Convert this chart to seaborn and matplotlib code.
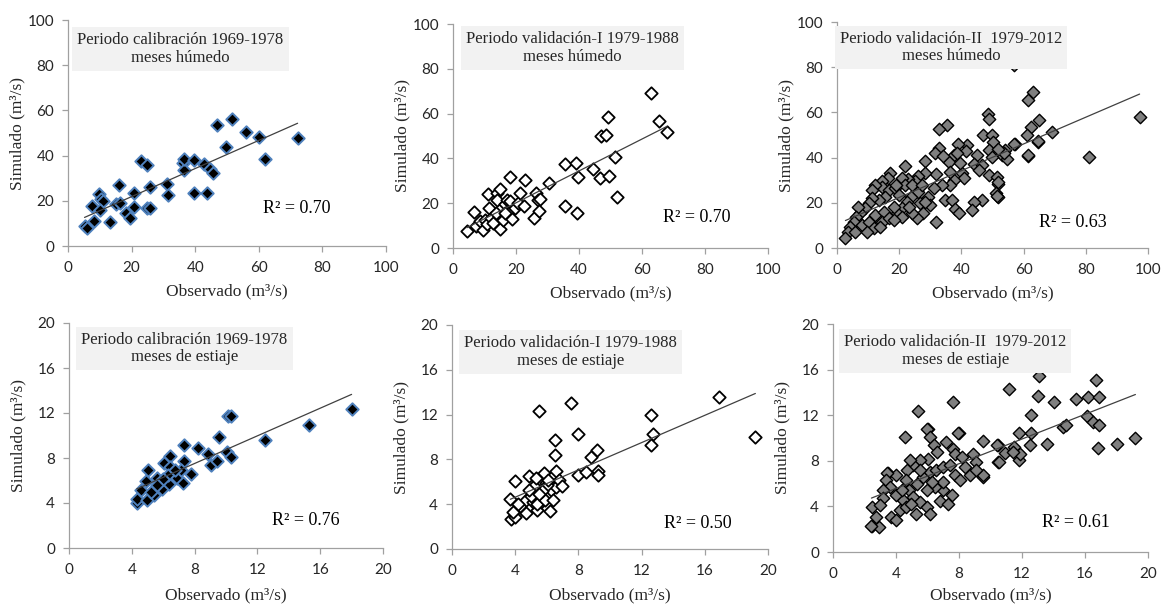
import matplotlib
matplotlib.use('Agg')
import matplotlib.pyplot as plt
import seaborn as sns

# ---- data (observado, simulado) ----
# calibracion 1969-1978, meses humedos
obs_cal_hum = [5.2, 6.0, 8.1, 7.7, 9.8, 10.5, 11.0, 10.0, 13.3, 15.0, 16.0, 16.5, 18.2, 19.6,
               20.7, 20.7, 22.8, 24.7, 24.7, 25.9, 25.9, 31.2, 31.5, 36.2, 36.4, 36.5, 39.6,
               39.6, 42.7, 43.8, 44.8, 45.6, 46.9, 49.8, 51.6, 55.9, 60.1, 61.9, 72.2]
sim_cal_hum = [8.8, 8.1, 11.0, 17.6, 23.0, 21.0, 20.0, 15.9, 10.6, 18.7, 27.2, 19.0, 14.7, 12.5,
               23.5, 17.4, 37.5, 35.7, 16.9, 26.2, 16.9, 27.6, 22.4, 36.8, 33.5, 38.5, 37.9,
               23.5, 36.5, 23.5, 34.1, 32.1, 53.7, 43.7, 56.3, 50.4, 48.2, 38.7, 47.9]

# validacion-I 1979-1988, meses humedos
obs_val1_hum = [4.4, 6.6, 7.2, 8.5, 9.5, 10.1, 10.9, 11.1, 11.4, 12.2, 12.7, 13.5, 14.0, 14.0,
                14.8, 15.0, 15.9, 16.4, 16.4, 17.1, 18.0, 18.2, 18.8, 19.6, 20.6, 21.4, 22.4,
                23.0, 25.6, 26.3, 27.0, 27.3, 27.7, 30.5, 35.4, 35.4, 39.2, 39.7, 39.4, 44.4,
                46.7, 47.1, 48.5, 49.2, 49.5, 51.3, 52.1, 63.0, 65.4, 67.9]
sim_val1_hum = [7.4, 16.0, 9.7, 11.9, 8.2, 12.6, 10.8, 24.2, 17.8, 13.4, 11.1, 15.6, 24.5, 21.5,
                26.3, 8.5, 12.6, 19.8, 15.6, 21.5, 20.8, 31.6, 12.9, 17.8, 20.1, 24.5, 18.6,
                30.5, 13.4, 24.5, 21.5, 16.3, 21.8, 29.0, 37.6, 18.6, 37.9, 31.6, 15.6, 35.2,
                31.2, 49.8, 50.5, 58.7, 32.2, 40.6, 22.7, 69.4, 56.9, 51.6]

# validacion-II 1979-2012, meses humedos
obs_val2_hum = [63.1, 61.3, 48.7, 48.9, 65.0, 62.4, 69.0, 61.0, 64.5, 61.3, 57.3, 35.3, 32.9,
                47.1, 49.8, 50.3, 54.0, 53.0, 54.6, 49.0, 49.8, 41.7, 41.4, 38.8, 37.5, 35.9,
                32.7, 31.6, 34.0, 28.2, 22.0, 45.0, 44.2, 46.6, 45.5, 48.9, 51.4, 51.9, 51.2,
                51.7, 46.6, 44.2, 43.3, 40.1, 40.7, 37.5, 36.2, 33.7, 31.1, 31.8, 28.4, 26.0,
                25.2, 22.8, 20.9, 34.8, 36.9, 38.0, 39.3, 31.8, 27.5, 25.7, 29.4, 30.0, 26.2,
                23.9, 22.5, 20.9, 19.3, 17.1, 16.4, 14.5, 14.5, 12.3, 11.1, 16.6, 18.5, 19.8,
                15.5, 13.4, 11.3, 10.2, 9.1, 7.5, 6.8, 6.1, 5.4, 4.3, 3.6, 2.7, 5.9, 8.1,
                10.2, 12.3, 15.0, 14.5, 16.6, 11.8, 9.7, 13.9, 18.2, 24.1, 23.0, 26.8, 28.4,
                20.9, 18.2, 22.0, 24.1, 27.3, 19.0, 36.4, 39.6, 38.5, 57.0, 57.0, 97.3,
                53.8, 51.7, 81.0, 64.7, 61.5, 51.7, 51.3]
sim_val2_hum = [69.1, 65.4, 59.1, 57.3, 56.6, 53.6, 51.4, 50.0, 47.0, 40.7, 45.8, 54.6, 52.6,
                49.9, 50.2, 47.0, 43.3, 41.1, 39.6, 43.3, 40.4, 45.5, 42.9, 45.8, 41.1, 38.2,
                44.1, 41.9, 40.8, 38.5, 36.3, 41.1, 37.0, 36.7, 34.5, 32.3, 31.6, 28.2, 24.2,
                22.7, 21.3, 20.5, 16.9, 33.0, 30.8, 30.1, 27.9, 27.9, 26.7, 32.6, 33.0, 32.0,
                29.6, 30.5, 31.1, 21.3, 21.3, 17.3, 15.4, 11.3, 15.4, 13.2, 22.7, 19.1, 24.9,
                22.7, 20.5, 17.9, 15.4, 33.0, 30.8, 29.6, 27.1, 27.9, 25.7, 25.7, 26.4, 23.5,
                22.7, 21.3, 22.0, 19.8, 17.6, 15.4, 18.3, 13.9, 11.7, 9.5, 7.3, 4.4, 7.3, 10.2,
                11.7, 14.6, 16.1, 11.7, 13.2, 8.8, 7.3, 9.5, 18.3, 15.4, 18.3, 19.8, 20.5,
                13.9, 12.4, 27.9, 27.9, 27.9, 27.9, 33.5, 37.4, 41.9, 46.0, 81.0, 57.8,
                41.9, 43.8, 40.1, 47.5, 41.2, 29.4, 22.8]

# calibracion 1969-1978, meses de estiaje
obs_cal_est = [4.31, 4.35, 4.58, 4.88, 5.0, 4.94, 5.43, 5.58, 5.75, 5.94, 6.06, 6.38, 6.42, 6.42,
               6.28, 6.85, 7.27, 7.34, 7.34, 7.12, 7.76, 8.23, 8.86, 9.07, 9.45, 9.54, 10.09,
               10.3, 10.14, 10.35, 12.47, 15.3, 18.0, 6.75, 6.0, 5.2, 5.6]
sim_cal_est = [4.04, 4.4, 5.2, 5.99, 6.94, 4.3, 4.72, 6.2, 5.5, 5.23, 7.53, 5.67, 8.18, 7.24,
               6.5, 6.2, 5.82, 7.77, 9.16, 6.94, 6.59, 8.86, 8.36, 7.39, 7.77, 9.9, 8.5,
               8.08, 11.73, 11.73, 9.6, 10.9, 12.4, 6.94, 6.1, 5.0, 5.6]

# validacion-I 1979-1988, meses de estiaje
obs_val1_est = [3.76, 3.97, 3.69, 3.97, 4.3, 4.7, 4.9, 5.1, 5.38, 5.55, 5.8, 5.93, 6.18, 6.29,
                5.13, 5.65, 5.34, 5.97, 6.4, 6.6, 6.6, 4.71, 6.5, 6.5, 4.18, 5.0, 5.2, 5.4,
                5.5, 5.9, 6.0, 6.4, 6.8, 6.98, 7.55, 7.97, 8.0, 8.5, 8.8, 9.2, 9.25, 9.25,
                12.6, 12.6, 12.7, 16.9, 19.2, 3.85, 5.3, 5.7, 6.1, 5.5, 4.9]
sim_val1_est = [2.67, 2.85, 4.45, 6.03, 3.8, 4.4, 6.5, 5.1, 3.5, 5.9, 6.8, 4.7, 3.4, 5.3,
                4.2, 4.2, 4.7, 5.9, 6.5, 5.5, 7.0, 3.2, 9.7, 8.4, 4.0, 4.7, 5.6, 4.0,
                12.3, 4.4, 5.7, 4.4, 6.2, 5.6, 13.0, 6.6, 10.3, 6.9, 8.2, 8.8, 7.0, 6.6,
                12.0, 9.3, 10.3, 13.6, 10.0, 3.3, 6.3, 5.2, 6.2, 4.9, 5.3]

# validacion-II 1979-2012, meses de estiaje
obs_val2_est = [2.5, 2.9, 2.5, 3.5, 4.6, 5.4, 6.0, 7.6, 8.0, 9.5, 9.55, 10.5, 10.5, 10.9, 11.2,
                11.5, 11.8, 11.9, 11.8, 12.6, 12.6, 12.5, 13.0, 13.1, 13.6, 14.0, 14.6, 14.8,
                15.4, 16.1, 16.2, 16.7, 16.5, 16.8, 16.9, 16.9, 18.0, 19.2,
                5.98, 7.95, 10.43, 10.56, 11.4, 6.15, 6.4, 7.2, 7.6, 6.6, 6.05, 5.5, 5.1, 4.7,
                4.9, 4.03, 3.44, 3.35, 3.6, 3.18, 3.2, 2.97, 2.76, 2.44, 3.7, 4.03, 4.24, 4.45,
                4.83, 5.35, 5.7, 6.15, 6.57, 7.0, 7.4, 7.74, 8.16, 8.38, 8.7, 8.9, 9.1, 9.5,
                9.1, 5.1, 5.52, 5.94, 6.15, 6.8, 7.3, 7.53, 7.0, 6.47, 5.94, 5.3, 4.66, 4.03,
                4.66, 5.52, 7.74, 8.06, 7.0, 6.26, 4.98, 4.35]
sim_val2_est = [2.25, 2.2, 3.95, 6.9, 10.1, 12.4, 10.8, 13.2, 10.4, 9.75, 6.6, 9.4, 7.9, 8.7,
                14.3, 9.25, 8.1, 8.6, 10.45, 12.0, 10.4, 9.4, 13.7, 15.4, 9.45, 13.2, 11.0,
                11.1, 13.4, 11.9, 13.6, 15.1, 11.4, 9.1, 13.6, 11.1, 9.45, 10.0,
                10.8, 10.4, 9.37, 7.9, 8.8, 10.1, 9.37, 9.66, 9.0, 8.8, 8.2, 8.05, 7.6, 7.2,
                8.05, 6.74, 6.94, 6.3, 5.7, 5.4, 4.7, 4.1, 3.1, 2.3, 3.1, 2.8, 3.66, 4.55,
                5.4, 6.0, 6.6, 7.0, 7.2, 7.5, 7.6, 8.6, 8.35, 7.5, 6.74, 8.6, 7.9, 6.74,
                7.2, 4.8, 4.4, 3.95, 3.37, 4.5, 4.25, 4.98, 5.4, 5.7, 5.4, 3.37, 3.95, 4.98,
                6.3, 7.2, 6.74, 6.3, 6.16, 6.16, 4.25, 5.4]

panel_obs = [obs_cal_hum, obs_val1_hum, obs_val2_hum, obs_cal_est, obs_val1_est, obs_val2_est]
panel_sim = [sim_cal_hum, sim_val1_hum, sim_val2_hum, sim_cal_est, sim_val1_est, sim_val2_est]

titles = ['Periodo calibración 1969-1978\nmeses húmedo',
          'Periodo validación-I 1979-1988\nmeses húmedo',
          'Periodo validación-II  1979-2012\nmeses húmedo',
          'Periodo calibración 1969-1978\nmeses de estiaje',
          'Periodo validación-I 1979-1988\nmeses de estiaje',
          'Periodo validación-II  1979-2012\nmeses de estiaje']
r2_labels = ['R² = 0.70', 'R² = 0.70', 'R² = 0.63', 'R² = 0.76', 'R² = 0.50', 'R² = 0.61']
x_label = 'Observado (m³/s)'
y_label = 'Simulado (m³/s)'

# ---- layout / style ----
sns.set_style('ticks')
plt.rcParams['font.family'] = ['Lato', 'DejaVu Sans']
SERIF = ['Liberation Serif', 'DejaVu Serif']
AXIS_GRAY = '#a0a0a0'

W, H = 1161, 604
# axes boxes in pixels: left, top, right, bottom
boxes = [(68, 20, 386, 246), (453, 24, 768, 248), (837, 22, 1148, 248),
         (69, 323, 383, 548), (452, 325, 768, 549), (833, 324, 1148, 552)]
marker_styles = [('black', '#4f81bd', 1.4), ('white', 'black', 1.3), ('#7f7f7f', 'black', 1.0)] * 2
title_pos = [(0.354, 0.872), (0.378, 0.893), (0.367, 0.887),
             (0.368, 0.887), (0.374, 0.880), (0.388, 0.880)]
r2_pos = [(0.72, 0.164), (0.775, 0.134), (0.757, 0.115),
          (0.753, 0.124), (0.777, 0.116), (0.771, 0.13)]
# distance (px) from the x axis down to the top of the x label
label_drop = [37, 37, 37, 39, 38, 35]

fig = plt.figure(figsize=(W / 100, H / 100), dpi=100)

for i in range(6):
    l, t, r, b = boxes[i]
    ax = fig.add_axes([l / W, 1 - b / H, (r - l) / W, (b - t) / H])
    fc, ec, lw = marker_styles[i]
    sns.scatterplot(x=panel_obs[i], y=panel_sim[i], marker='D', s=40, color=fc,
                    edgecolor=ec, linewidth=lw, ax=ax, zorder=2)
    sns.regplot(x=panel_obs[i], y=panel_sim[i], scatter=False, ci=None, ax=ax,
                color='#404040', line_kws={'lw': 0.9, 'zorder': 3})

    top = 100 if i < 3 else 20
    step = 20 if i < 3 else 4
    ax.set_xlim(0, top)
    ax.set_ylim(0, top)
    ax.set_xticks(range(0, top + 1, step))
    ax.set_yticks(range(0, top + 1, step))
    sns.despine(ax=ax)
    for sp in ['left', 'bottom']:
        ax.spines[sp].set_color(AXIS_GRAY)
        ax.spines[sp].set_linewidth(0.9)
    ax.tick_params(axis='both', direction='out', length=4, width=0.9, color=AXIS_GRAY,
                   labelcolor='#262626', labelsize=11)
    ax.tick_params(axis='x', pad=7)
    ax.tick_params(axis='y', pad=6)

    ax.set_xlabel(x_label, family=SERIF, fontsize=12.5, color='#262626')
    ax.set_ylabel(y_label, family=SERIF, fontsize=12.5, color='#262626')
    ax.xaxis.set_label_coords(0.5, -label_drop[i] / (b - t))
    ax.yaxis.set_label_coords(-43 / (r - l), 0.5)

    tx, ty = title_pos[i]
    ax.text(tx, ty, titles[i], transform=ax.transAxes, ha='center', va='center',
            family=SERIF, fontsize=12, linespacing=1.15, zorder=4,
            bbox=dict(boxstyle='square,pad=0.3', fc='#f2f2f2', ec='none'))
    rx, ry = r2_pos[i]
    ax.text(rx, ry, r2_labels[i], transform=ax.transAxes, ha='center', va='center',
            family=SERIF, fontsize=13, color='black')

fig.savefig('out.png', dpi=100)
